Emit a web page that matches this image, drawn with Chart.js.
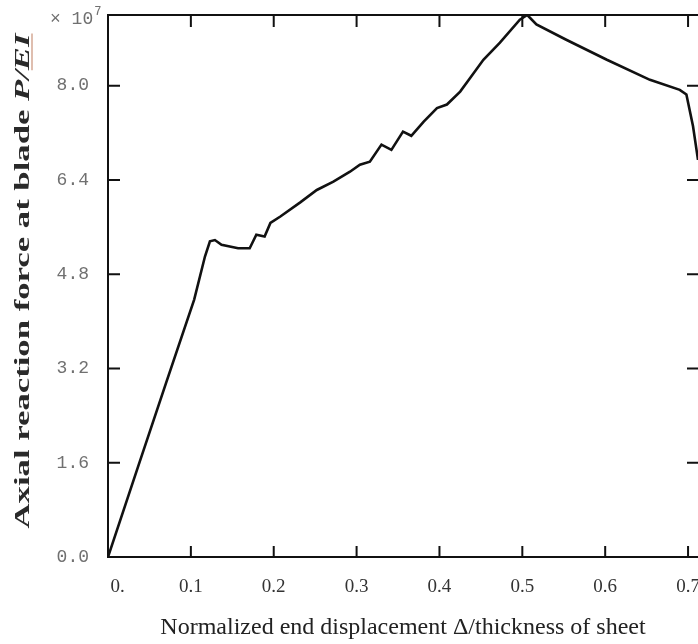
<!DOCTYPE html>
<html>
<head>
<meta charset="utf-8">
<title>Axial reaction force vs end displacement</title>
<script src="https://cdn.jsdelivr.net/npm/chart.js@4.4.1/dist/chart.umd.min.js"></script>
<style>
  html, body { margin: 0; padding: 0; background: #fff; overflow: hidden; }
  #wrap { position: relative; width: 698px; height: 644px; }
</style>
</head>
<body>
<div id="wrap"><canvas id="chart"></canvas></div>
<script>
// Data (y in units of 10^7)
const dispX = [0, 0.036, 0.070, 0.104, 0.117, 0.123, 0.129, 0.137, 0.157,
  0.171, 0.179, 0.189, 0.196, 0.208, 0.232, 0.252, 0.272, 0.292, 0.304,
  0.316, 0.330, 0.342, 0.356, 0.366, 0.381, 0.397, 0.409, 0.425, 0.437,
  0.453, 0.473, 0.497, 0.506, 0.517, 0.553, 0.602, 0.654, 0.690, 0.698,
  0.706, 0.712];
const forceY = [0, 1.52, 2.95, 4.37, 5.10, 5.36, 5.38, 5.30, 5.24,
  5.24, 5.47, 5.44, 5.67, 5.78, 6.02, 6.23, 6.37, 6.54, 6.66,
  6.71, 7.00, 6.91, 7.22, 7.15, 7.39, 7.62, 7.68, 7.90, 8.13,
  8.44, 8.73, 9.12, 9.20, 9.04, 8.78, 8.44, 8.10, 7.93, 7.85,
  7.31, 6.74];

// Axis setup
const X_MIN = 0, X_MAX = 0.712, X_STEP = 0.1;
const Y_MIN = 0, Y_MAX = 9.2, Y_STEP = 1.6;
const xTitle = "Normalized end displacement \u0394/thickness of sheet";
const yTitlePlain = "Axial reaction force at blade ";
const yTitleItalic = "P/EI";
const yExponent = { base: "\u00d7 10", power: "7" };

const serif = "'Liberation Serif', 'Times New Roman', serif";
const mono = "'Liberation Mono', 'Courier New', monospace";

// Frame, inward tick marks, rotated y title and exponent label
const frame = {
  id: "frame",
  afterDraw(chart) {
    const { ctx, chartArea: a, scales: { x, y } } = chart;
    ctx.save();
    ctx.strokeStyle = "#111";
    ctx.lineWidth = 2;
    ctx.beginPath();
    ctx.moveTo(a.right + 2, a.top);
    ctx.lineTo(a.left, a.top);
    ctx.lineTo(a.left, a.bottom);
    ctx.lineTo(a.right + 2, a.bottom);
    ctx.stroke();

    ctx.beginPath();
    x.ticks.forEach((t) => {
      const px = x.getPixelForValue(t.value);
      if (px <= a.left + 1) return;
      ctx.moveTo(px, a.bottom); ctx.lineTo(px, a.bottom - 11);
      ctx.moveTo(px, a.top); ctx.lineTo(px, a.top + 12);
    });
    y.ticks.forEach((t) => {
      const py = y.getPixelForValue(t.value);
      if (py >= a.bottom - 1) return;
      ctx.moveTo(a.left, py); ctx.lineTo(a.left + 12, py);
      ctx.moveTo(a.right, py); ctx.lineTo(a.right - 11, py);
    });
    ctx.stroke();

    // "× 10^7" above the y axis
    ctx.fillStyle = "#707070";
    ctx.textBaseline = "middle";
    ctx.textAlign = "left";
    ctx.font = "18px " + mono;
    ctx.fillText(yExponent.base, 50, 19);
    const bw = ctx.measureText(yExponent.base).width;
    ctx.font = "12px " + mono;
    ctx.fillText(yExponent.power, 50 + bw + 1, 12);

    // y title, stretched along its length like the reference
    ctx.translate(29, 281);
    ctx.rotate(-Math.PI / 2);
    ctx.font = "bold 22px " + serif;
    const w1 = ctx.measureText(yTitlePlain).width;
    ctx.font = "italic bold 22px " + serif;
    const w2 = ctx.measureText(yTitleItalic).width;
    const k = 495 / (w1 + w2);
    ctx.scale(k, 1);
    const x0 = -(w1 + w2) / 2;
    ctx.textBaseline = "alphabetic";
    ctx.fillStyle = "#2a2a2a";
    ctx.font = "bold 22px " + serif;
    ctx.fillText(yTitlePlain, x0, 0);
    ctx.font = "italic bold 22px " + serif;
    ctx.fillText(yTitleItalic, x0 + w1, 0);
    const eiW = ctx.measureText("EI").width;
    ctx.strokeStyle = "#d4a995";
    ctx.lineWidth = 1.5;
    ctx.beginPath();
    ctx.moveTo(x0 + w1 + w2 - eiW, 3);
    ctx.lineTo(x0 + w1 + w2, 3);
    ctx.stroke();
    ctx.restore();
  },
};

new Chart(document.getElementById("chart"), {
  type: "line",
  data: {
    datasets: [{
      data: dispX.map((v, i) => ({ x: v, y: forceY[i] })),
      borderColor: "#111",
      borderWidth: 2.6,
      pointRadius: 0,
      tension: 0,
      fill: false,
    }],
  },
  options: {
    responsive: true,
    maintainAspectRatio: false,
    animation: false,
    layout: { padding: { top: 15, left: 0, right: 0, bottom: 0 } },
    plugins: { legend: { display: false }, tooltip: { enabled: false } },
    scales: {
      x: {
        type: "linear",
        min: X_MIN,
        max: X_MAX,
        border: { display: false },
        grid: { display: false, drawTicks: false },
        ticks: {
          stepSize: X_STEP,
          includeBounds: false,
          autoSkip: false,
          maxRotation: 0,
          padding: 19,
          color: "#333",
          font: { family: serif, size: 19 },
          callback: (v) => (v === 0 ? "\u2002\u20020." : v.toFixed(1)),
        },
        title: {
          display: true,
          text: xTitle,
          color: "#222",
          font: { family: serif, size: 24 },
          padding: { top: 0, bottom: 2 },
        },
        afterFit: (s) => { s.height = 87; s.paddingLeft = 0; s.paddingRight = 0; },
      },
      y: {
        type: "linear",
        min: Y_MIN,
        max: Y_MAX,
        border: { display: false },
        grid: { display: false, drawTicks: false },
        ticks: {
          stepSize: Y_STEP,
          includeBounds: false,
          padding: 19,
          color: "#707070",
          font: { family: mono, size: 18 },
          callback: (v) => v.toFixed(1),
        },
        afterFit: (s) => { s.width = 108; s.paddingTop = 0; s.paddingBottom = 0; },
      },
    },
  },
  plugins: [frame],
});
</script>
</body>
</html>
